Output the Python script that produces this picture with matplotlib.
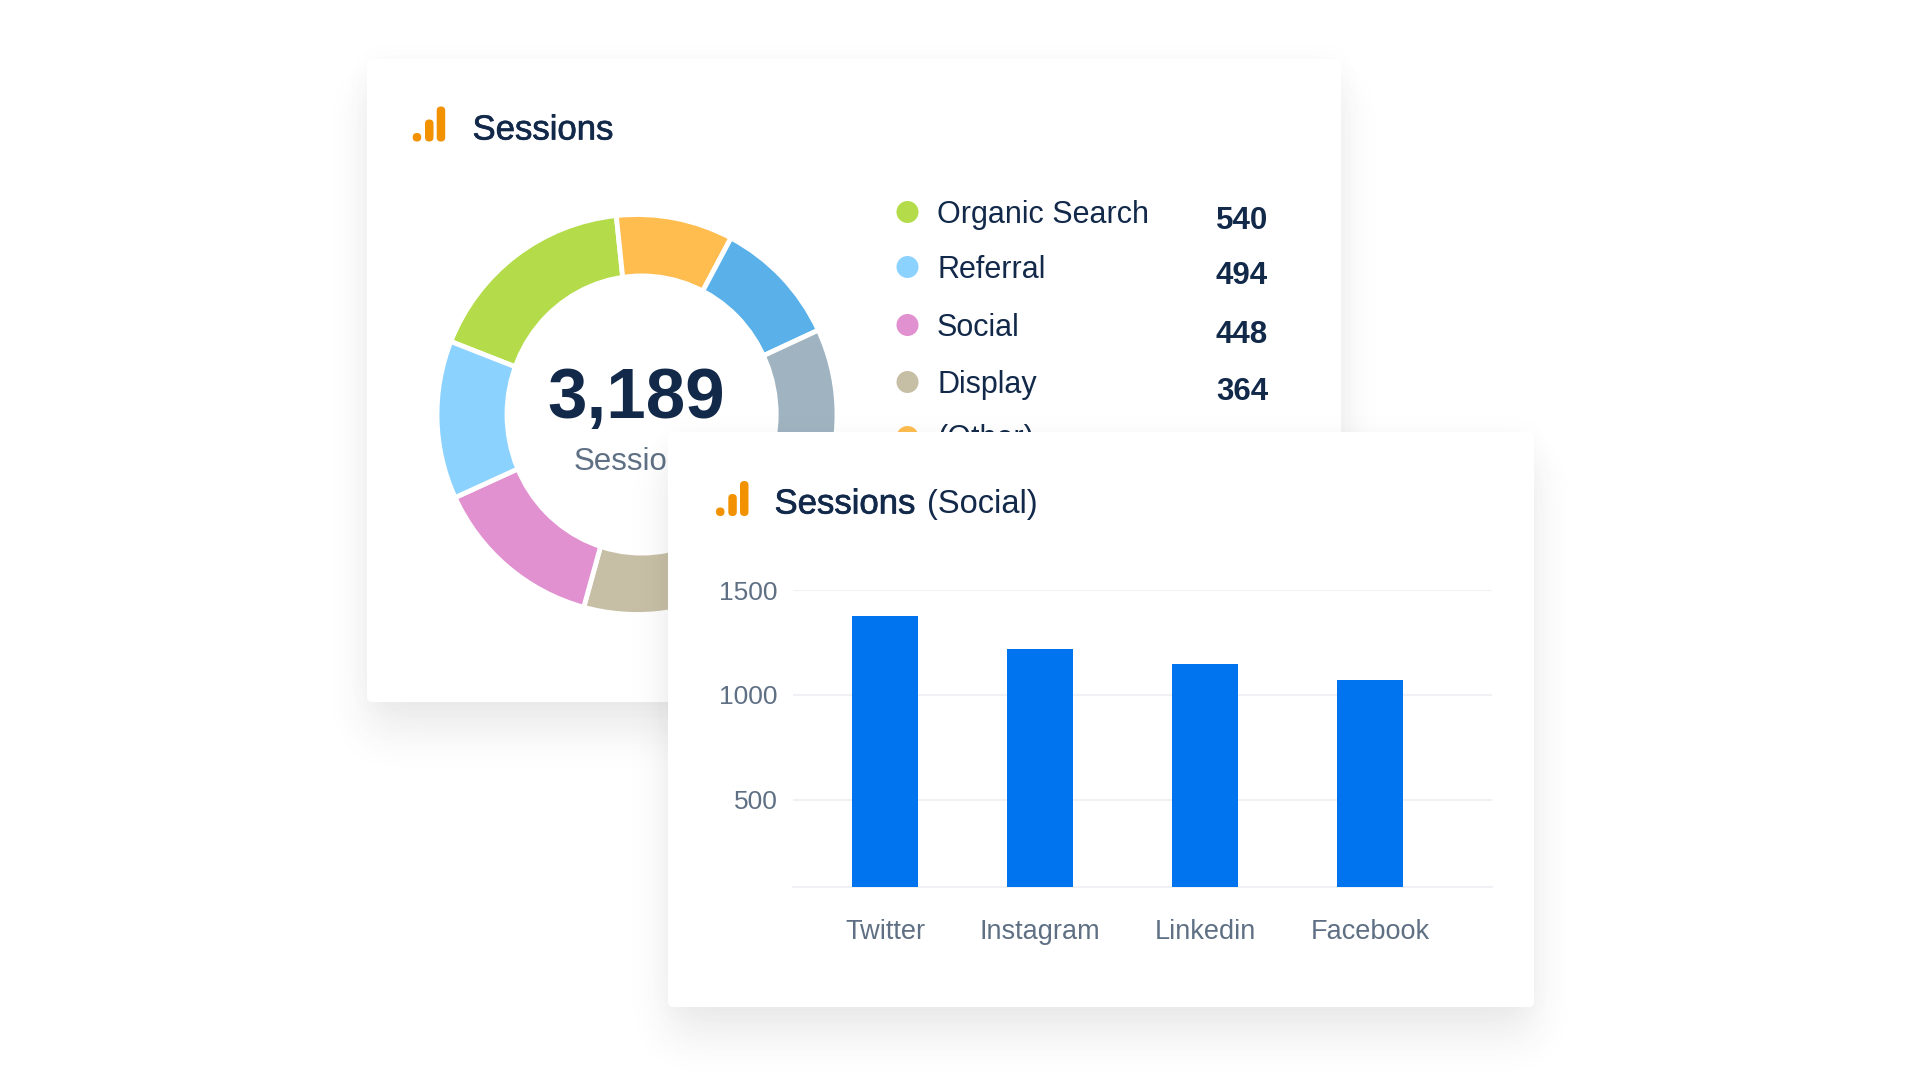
import math

import matplotlib
matplotlib.use("Agg")
import matplotlib.patheffects as pe
import matplotlib.pyplot as plt
import numpy as np
from matplotlib.patches import Circle, Ellipse, FancyBboxPatch

plt.rcParams["font.family"] = ["Liberation Sans", "DejaVu Sans"]

W, H = 1920, 1080
NAVY = "#12294a"
GREY_TEXT = "#5f7084"
ORANGE = "#f39200"

# Donut slices, clockwise from the green one
slice_names = ["Organic Search", "(Other)", "Direct", "Paid", "Display", "Social", "Referral"]
slice_values = [555, 301, 328, 788, 367, 443, 407]
slice_colors = ["#b4dc4a", "#ffbd4f", "#5ab1ea", "#9fb4c0", "#c7bfa5", "#e190d0", "#8cd2ff"]

# Legend on the first card
legend_names = ["Organic Search", "Referral", "Social", "Display", "(Other)"]
legend_values = ["540", "494", "448", "364", ""]
legend_colors = ["#b4dc4a", "#8cd2ff", "#e190d0", "#c7bfa5", "#ffbd4f"]
total_label = "3,189"

# Bars on the second card
platforms = ["Twitter", "Instagram", "Linkedin", "Facebook"]
platform_sessions = [1376, 1219, 1148, 1071]
y_ticks = [500, 1000, 1500]

medium = [pe.withStroke(linewidth=0.5, foreground=NAVY)]


def axes_px(left, top, right, bottom, zorder):
    ax = fig.add_axes([left / W, 1 - bottom / H, (right - left) / W, (bottom - top) / H], zorder=zorder)
    return ax


def draw_shadow(ax, box, sigma, dy, strength):
    left, top, right, bottom = box
    xs = np.arange(W) + 0.5
    ys = np.arange(H) + 0.5
    erf = np.vectorize(math.erf)
    s = sigma * math.sqrt(2)
    fx = 0.5 * (erf((xs - left) / s) - erf((xs - right) / s))
    fy = 0.5 * (erf((ys - top - dy) / s) - erf((ys - bottom - dy) / s))
    img = np.zeros((H, W, 4))
    img[..., :3] = 0.25
    img[..., 3] = strength * np.outer(fy, fx)
    ax.imshow(img, extent=(0, W, H, 0), interpolation="nearest", aspect="auto")


def draw_card(ax, box):
    left, top, right, bottom = box
    card = FancyBboxPatch((left + 5, top + 5), right - left - 10, bottom - top - 10,
                          boxstyle="round,pad=5,rounding_size=5", fc="white", ec="none")
    ax.add_patch(card)


def draw_icon(ax, x, bottom):
    # three rising rounded bars of the analytics logo
    for offset, height in [(0, 8.5), (12.3, 22), (24, 35)]:
        bar = FancyBboxPatch((x + offset + 4.2, bottom - height + 4.2), 0.1, height - 8.4,
                             boxstyle="round,pad=4.2,rounding_size=4.2", fc=ORANGE, ec="none")
        ax.add_patch(bar)


fig = plt.figure(figsize=(19.2, 10.8), dpi=100, facecolor="white")

# First card, in the back
back = axes_px(0, 0, W, H, 0)
back.axis("off")
card1 = (367, 59, 1341, 702)
draw_shadow(back, card1, 20, 30, 0.10)
draw_shadow(back, card1, 14, 0, 0.03)
draw_card(back, card1)
back.set_xlim(0, W)
back.set_ylim(H, 0)
draw_icon(back, 412.7, 141.5)
back.text(472.5, 130, "Sessions", fontsize=25, color=NAVY, va="center", path_effects=medium)

for i, name in enumerate(legend_names):
    y = [212, 267, 325, 382, 437][i]
    back.add_patch(Circle((907.5, y), 11, fc=legend_colors[i], ec="none"))
    back.text(937, y + 2.5, name, fontsize=22, color=NAVY, va="center")
    val_y = [221, 276.5, 335, 392, 447][i]
    back.text(1268, val_y, legend_values[i], fontsize=22.5, fontweight="bold", color=NAVY, ha="right", va="center")

# Donut chart, the hole sits a little off centre in the reference
donut = axes_px(437, 214.5, 837, 614.5, 1)
donut.pie(slice_values, colors=slice_colors, startangle=-201.4, counterclock=False,
          radius=1.0, wedgeprops=dict(edgecolor="white", linewidth=3.5))
donut.add_patch(Ellipse((0.023, 0), 1.37, 1.41, fc="white", ec="none", zorder=5))
donut.set_xlim(-1, 1)
donut.set_ylim(-1, 1)
donut.patch.set_alpha(0)
donut.text(-0.005, 0.072, total_label, fontsize=51, fontweight="bold", color=NAVY,
           ha="center", va="center", zorder=6)
donut.text(0, -0.2375, "Sessions", fontsize=22.5, color=GREY_TEXT, ha="center", va="center", zorder=6)

# Second card covers the lower right of the first one
front = axes_px(0, 0, W, H, 2)
front.axis("off")
card2 = (668, 432, 1534, 1007)
draw_shadow(front, card2, 20, 30, 0.10)
draw_shadow(front, card2, 14, 0, 0.03)
draw_card(front, card2)
front.set_xlim(0, W)
front.set_ylim(H, 0)
draw_icon(front, 716, 516)
front.text(774.5, 504, "Sessions", fontsize=25, color=NAVY, va="center", path_effects=medium)
front.text(927, 504, "(Social)", fontsize=23.5, color=NAVY, va="center")

# Bar chart
ax = axes_px(793, 590, 1492, 887, 3)
ax.patch.set_alpha(0)
bar_positions = [0, 0.94, 1.94, 2.94]
ax.bar(bar_positions, platform_sessions, width=0.4, color="#0073ee", zorder=3)
ax.set_xlim(-0.558, 3.68)
ax.set_ylim(85, 1500)
ax.set_yticks(y_ticks)
ax.set_xticks(bar_positions)
ax.set_xticklabels(platforms)
ax.tick_params(axis="x", length=0, pad=23, labelsize=19.5, labelcolor=GREY_TEXT)
ax.tick_params(axis="y", length=0, pad=11, labelsize=19, labelcolor=GREY_TEXT)
ax.grid(True, axis="y", color="#f0f1f4", linewidth=1.5, zorder=0)
for side in ["top", "left", "right"]:
    ax.spines[side].set_visible(False)
ax.spines["bottom"].set_color("#f0f1f4")
ax.spines["bottom"].set_linewidth(1.5)

plt.savefig("out.png", dpi=100)
